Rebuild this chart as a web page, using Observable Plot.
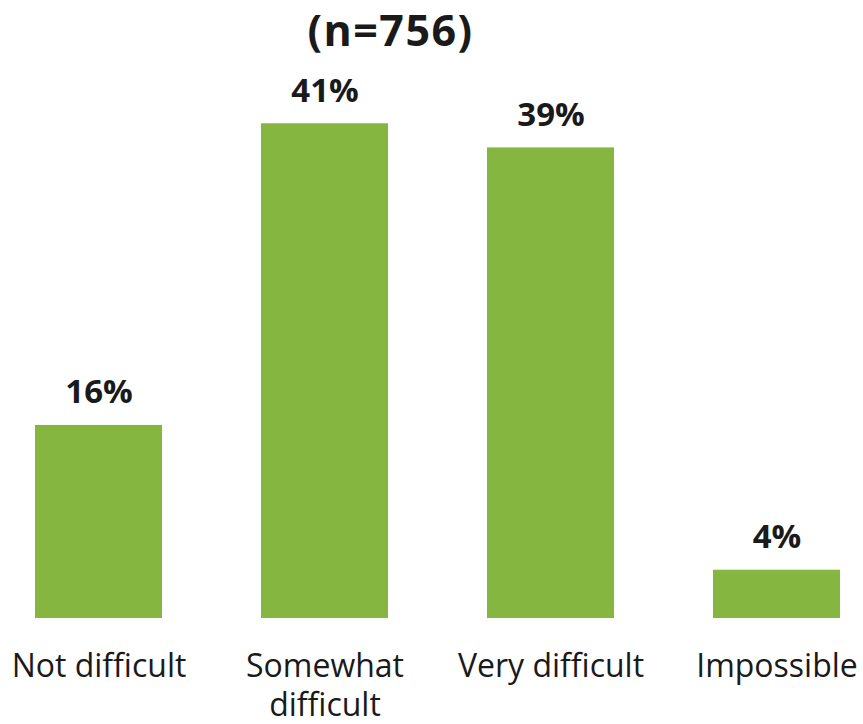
<!DOCTYPE html>
<html>
<head>
<meta charset="utf-8">
<script src="https://cdn.jsdelivr.net/npm/d3@7"></script>
<script src="https://cdn.jsdelivr.net/npm/@observablehq/plot@0.6"></script>
<style>
  html, body { margin: 0; padding: 0; background: #fff; }
  body { width: 863px; height: 724px; overflow: hidden; font-family: "Open Sans", sans-serif; }
  #title { box-sizing: border-box; width: 863px; height: 60px; padding-top: 0; padding-right: 82px;
           text-align: center; font-size: 43px; font-weight: 700; line-height: 59px; letter-spacing: 1.5px; color: #1a1a1a; }
  #chart svg { display: block; }
</style>
</head>
<body>
<div id="title">(n=756)</div>
<div id="chart"></div>
<script>
const categories = ["Not difficult", "Somewhat difficult", "Very difficult", "Impossible"];
const tickLabels = ["Not difficult", "Somewhat\ndifficult", "Very difficult", "Impossible"];
const values = [16, 41, 39, 4];
const valueLabels = ["16%", "41%", "39%", "4%"];

const data = categories.map((c, i) => ({category: c, value: values[i], label: valueLabels[i]}));
const tickMap = new Map(categories.map((c, i) => [c, tickLabels[i]]));

const chart = Plot.plot({
  width: 863,
  height: 664,
  marginTop: 15,
  marginBottom: 106,
  marginLeft: 34,
  marginRight: 21,
  style: {fontFamily: "Open Sans, sans-serif", color: "#1a1a1a", background: "#fff"},
  x: {domain: categories, paddingInner: 0.436, paddingOuter: 0, axis: null},
  y: {domain: [0, 45], axis: null},
  marks: [
    Plot.barY(data, {x: "category", y: "value", fill: "#85b63f"}),
    Plot.text(data, {x: "category", y: "value", text: "label", fontSize: 33, fontWeight: 700,
      fill: "#1a1a1a", lineAnchor: "bottom", dy: -22}),
    Plot.axisX({tickSize: 0, tickPadding: 30, fontSize: 32, lineHeight: 1.24, label: null,
      tickFormat: d => tickMap.get(d), lineWidth: 20, fill: "#1a1a1a"})
  ]
});
document.getElementById("chart").appendChild(chart);
</script>
</body>
</html>
